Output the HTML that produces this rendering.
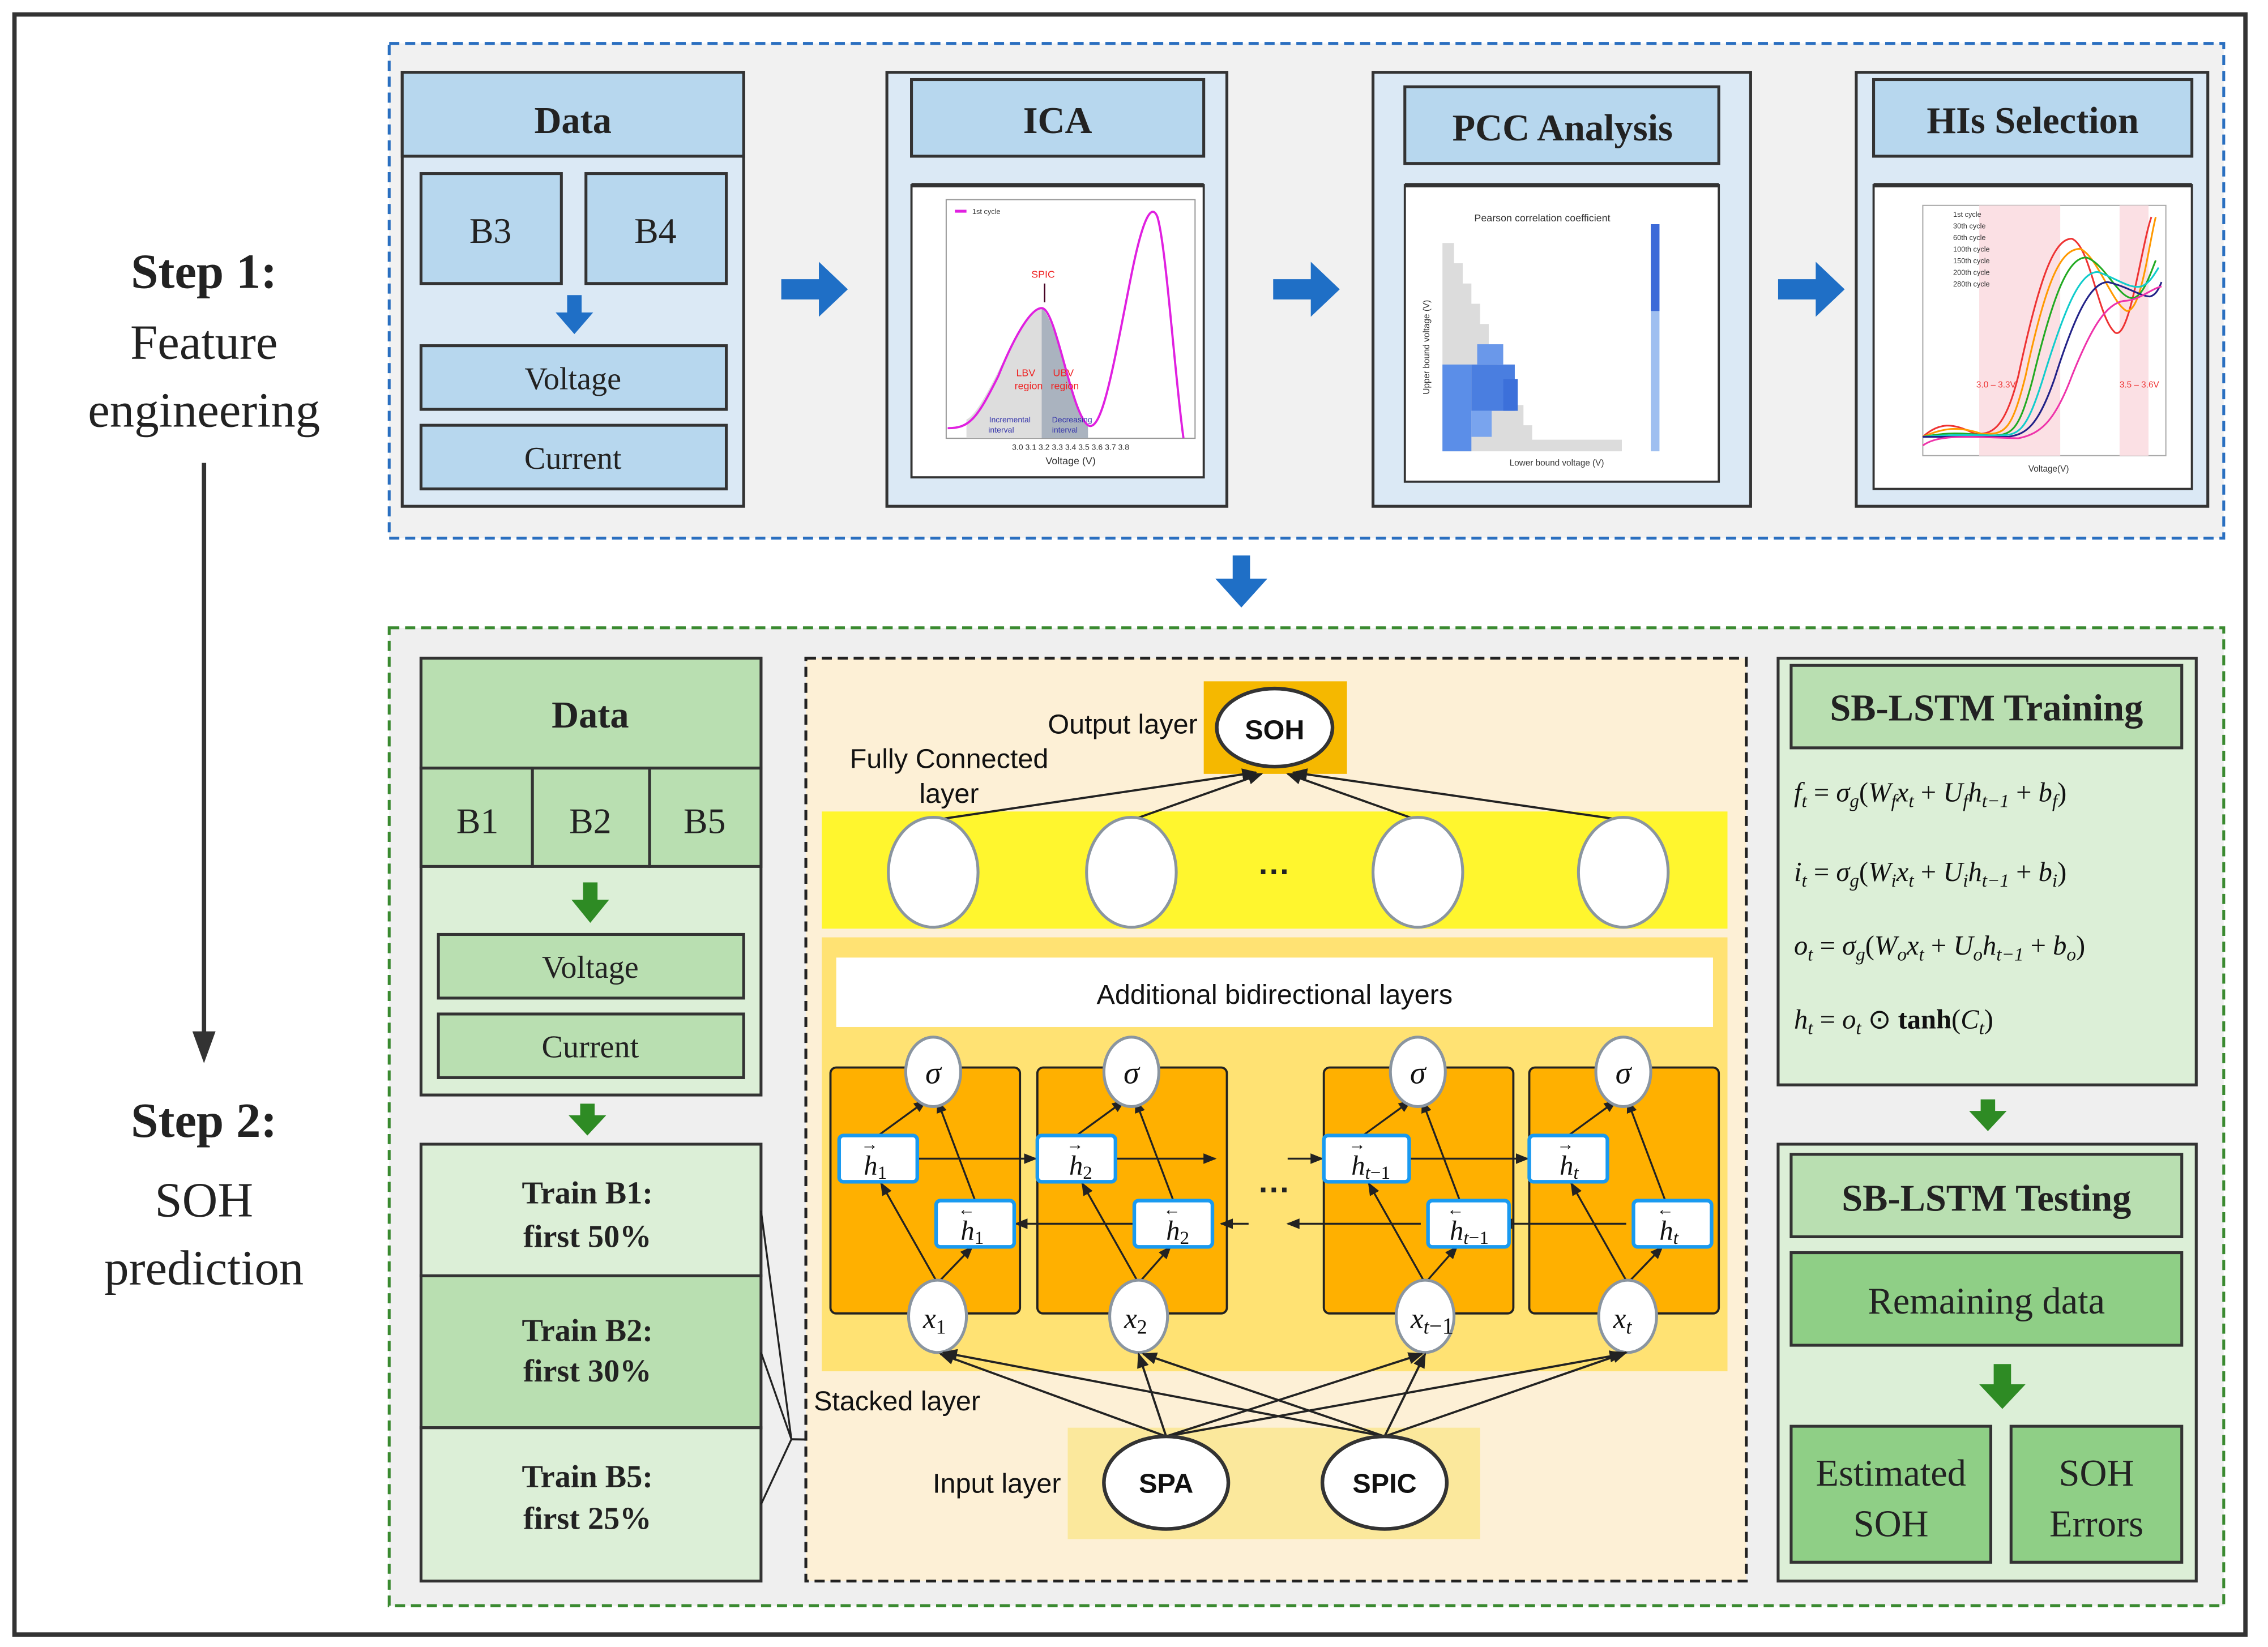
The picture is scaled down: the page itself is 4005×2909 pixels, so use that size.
<!DOCTYPE html>
<html><head><meta charset="utf-8"><style>
html,body{margin:0;padding:0;background:#fff;}
svg{display:block;}
.sf{font-family:"Liberation Serif",serif;}
.ss{font-family:"Liberation Sans",sans-serif;}
</style></head><body>
<svg width="4005" height="2909" viewBox="0 0 1567.6 1138.6" preserveAspectRatio="none" xmlns="http://www.w3.org/2000/svg">
<defs>
<marker id="ar" viewBox="0 0 10 10" refX="9" refY="5" markerWidth="7" markerHeight="7" orient="auto-start-reverse"><path d="M0,1 L10,5 L0,9 z" fill="#222"/></marker>
</defs>
<rect x="0" y="0" width="1567.6" height="1138.6" fill="#fff"/>
<rect x="10" y="10" width="1542" height="1120" fill="#fff" stroke="#333" stroke-width="3"/>

<g class="sf" text-anchor="middle" fill="#222">
<text x="141" y="199" font-size="34" font-weight="bold">Step 1:</text>
<text x="141" y="248" font-size="34">Feature</text>
<text x="141" y="295" font-size="34">engineering</text>
<text x="141" y="786" font-size="34" font-weight="bold">Step 2:</text>
<text x="141" y="841" font-size="34">SOH</text>
<text x="141" y="888" font-size="34">prediction</text>
</g>
<line x1="141" y1="320" x2="141" y2="715" stroke="#333" stroke-width="3"/>
<path d="M133,713 L149,713 L141,735 z" fill="#333"/>

<rect x="269" y="30" width="1268" height="342" fill="#f1f1f1" stroke="#2a6fc0" stroke-width="2" stroke-dasharray="7,4"/>

<rect x="278" y="50" width="236" height="300" fill="#dbe9f5" stroke="#333" stroke-width="2"/>
<rect x="278" y="50" width="236" height="58" fill="#b7d7ee" stroke="#333" stroke-width="2"/>
<text x="396" y="92" class="sf" font-size="26" font-weight="bold" text-anchor="middle" fill="#222">Data</text>
<rect x="291" y="120" width="97" height="76" fill="#b7d7ee" stroke="#333" stroke-width="2"/>
<rect x="405" y="120" width="97" height="76" fill="#b7d7ee" stroke="#333" stroke-width="2"/>
<text x="339" y="168" class="sf" font-size="25" text-anchor="middle" fill="#222">B3</text>
<text x="453" y="168" class="sf" font-size="25" text-anchor="middle" fill="#222">B4</text>
<path d="M392,204 h10 v12 h8 l-13,15 l-13,-15 h8 z" fill="#1f6fc6"/>
<rect x="291" y="239" width="211" height="44" fill="#b7d7ee" stroke="#333" stroke-width="2"/>
<rect x="291" y="294" width="211" height="44" fill="#b7d7ee" stroke="#333" stroke-width="2"/>
<text x="396" y="269" class="sf" font-size="22" text-anchor="middle" fill="#222">Voltage</text>
<text x="396" y="324" class="sf" font-size="22" text-anchor="middle" fill="#222">Current</text>

<path d="M540,193 h26 v-12 l20,19 l-20,19 v-12 h-26 z" fill="#1f6fc6"/>
<path d="M880,193 h26 v-12 l20,19 l-20,19 v-12 h-26 z" fill="#1f6fc6"/>
<path d="M1229,193 h26 v-12 l20,19 l-20,19 v-12 h-26 z" fill="#1f6fc6"/>
<path d="M852,384 h12 v16 h12 l-18,20 l-18,-20 h12 z" fill="#1f6fc6"/>

<rect x="613" y="50" width="235" height="300" fill="#dbe9f5" stroke="#333" stroke-width="2"/>
<rect x="630" y="55" width="202" height="53" fill="#b7d7ee" stroke="#333" stroke-width="2"/>
<text x="731" y="92" class="sf" font-size="26" font-weight="bold" text-anchor="middle" fill="#222">ICA</text>
<rect x="630" y="128" width="202" height="202" fill="#fff" stroke="#333" stroke-width="1.5"/>
<line x1="630" y1="128" x2="832" y2="128" stroke="#333" stroke-width="3"/>
<rect x="654" y="138" width="172" height="165" fill="#fff" stroke="#999" stroke-width="0.8"/>
<path d="M668,290 C680,285 700,230 712,218 L720,213 L720,303 L668,303 z" fill="#ddd"/>
<path d="M720,213 C730,220 740,280 752,295 L752,303 L720,303 z" fill="#aab3bf"/>
<path d="M655,296 C670,296 675,290 690,260 C700,235 712,213 720,213 C730,213 740,285 752,294 C762,300 770,250 782,190 C790,150 796,140 800,150 C806,170 812,260 818,303" fill="none" stroke="#e020e0" stroke-width="1.5"/>
<text x="721" y="192" font-size="7" fill="#e22" class="ss" text-anchor="middle">SPIC</text>
<line x1="722" y1="196" x2="722" y2="209" stroke="#402" stroke-width="1"/>
<text x="709" y="260" font-size="7" fill="#e22" class="ss" text-anchor="middle">LBV</text>
<text x="711" y="269" font-size="7" fill="#e22" class="ss" text-anchor="middle">region</text>
<text x="735" y="260" font-size="7" fill="#e22" class="ss" text-anchor="middle">UBV</text>
<text x="736" y="269" font-size="7" fill="#e22" class="ss" text-anchor="middle">region</text>
<text x="698" y="292" font-size="5.5" fill="#33a" class="ss" text-anchor="middle">Incremental</text>
<text x="692" y="299" font-size="5.5" fill="#33a" class="ss" text-anchor="middle">interval</text>
<text x="741" y="292" font-size="5.5" fill="#33a" class="ss" text-anchor="middle">Decreasing</text>
<text x="736" y="299" font-size="5.5" fill="#33a" class="ss" text-anchor="middle">interval</text>
<text x="740" y="321" font-size="7" class="ss" text-anchor="middle" fill="#333">Voltage (V)</text>
<text x="740" y="311" font-size="5.5" class="ss" text-anchor="middle" fill="#333">3.0  3.1  3.2  3.3  3.4  3.5  3.6  3.7  3.8</text>
<text x="672" y="148" font-size="5" class="ss" fill="#333">1st cycle</text>
<line x1="660" y1="146" x2="668" y2="146" stroke="#e020e0" stroke-width="2"/>

<rect x="949" y="50" width="261" height="300" fill="#dbe9f5" stroke="#333" stroke-width="2"/>
<rect x="971" y="60" width="217" height="53" fill="#b7d7ee" stroke="#333" stroke-width="2"/>
<text x="1080" y="97" class="sf" font-size="26" font-weight="bold" text-anchor="middle" fill="#222">PCC Analysis</text>
<rect x="971" y="128" width="217" height="205" fill="#fff" stroke="#333" stroke-width="1.5"/>
<line x1="971" y1="128" x2="1188" y2="128" stroke="#333" stroke-width="3"/>
<text x="1066" y="153" font-size="7" class="ss" text-anchor="middle" fill="#333">Pearson correlation coefficient</text>
<path d="M997,168 L1005,168 L1005,182 L1011,182 L1011,196 L1017,196 L1017,210 L1023,210 L1023,224 L1029,224 L1029,238 L1035,238 L1035,252 L1041,252 L1041,266 L1047,266 L1047,280 L1053,280 L1053,294 L1059,294 L1059,304 L1121,304 L1121,312 L997,312 z" fill="#dcdcdc"/>
<rect x="997" y="252" width="20" height="60" fill="#5b8ee8"/>
<rect x="1017" y="252" width="30" height="32" fill="#4a7ee0"/>
<rect x="1021" y="238" width="18" height="14" fill="#6a98ea"/>
<rect x="1039" y="262" width="10" height="22" fill="#3c70da"/>
<rect x="1017" y="284" width="14" height="18" fill="#79a4ee"/>
<rect x="1141" y="155" width="6" height="157" fill="#9fbff0"/>
<rect x="1141" y="155" width="6" height="60" fill="#3c6ad8"/>
<text x="1076" y="322" font-size="6" class="ss" text-anchor="middle" fill="#333">Lower bound voltage (V)</text>
<text x="988" y="240" font-size="6" class="ss" text-anchor="middle" fill="#333" transform="rotate(-90 988 240)">Upper bound voltage (V)</text>

<rect x="1283" y="50" width="243" height="300" fill="#dbe9f5" stroke="#333" stroke-width="2"/>
<rect x="1295" y="55" width="220" height="53" fill="#b7d7ee" stroke="#333" stroke-width="2"/>
<text x="1405" y="92" class="sf" font-size="26" font-weight="bold" text-anchor="middle" fill="#222">HIs Selection</text>
<rect x="1295" y="128" width="220" height="210" fill="#fff" stroke="#333" stroke-width="1.5"/>
<line x1="1295" y1="128" x2="1515" y2="128" stroke="#333" stroke-width="3"/>
<rect x="1329" y="142" width="168" height="173" fill="#fff" stroke="#aaa" stroke-width="0.8"/>
<rect x="1368" y="142" width="56" height="173" fill="#fbe0e4"/>
<rect x="1465" y="142" width="20" height="173" fill="#fbe0e4"/>
<path d="M1329,302 C1340,292 1350,292 1365,300 C1375,300 1385,300 1395,260 C1410,190 1420,165 1432,165 C1445,170 1450,220 1462,230 C1472,235 1480,170 1487,150" fill="none" stroke="#e33" stroke-width="1.2"/>
<path d="M1329,302 C1345,295 1355,295 1370,300 C1385,300 1390,300 1400,260 C1415,190 1425,172 1438,172 C1450,178 1460,210 1470,215 C1480,215 1485,170 1490,150" fill="none" stroke="#f90" stroke-width="1.2"/>
<path d="M1329,302 C1350,298 1360,300 1375,301 C1390,301 1395,300 1405,262 C1420,200 1430,178 1442,178 C1455,182 1465,208 1475,206 C1482,203 1486,190 1490,180" fill="none" stroke="#2a2" stroke-width="1.2"/>
<path d="M1329,302 C1350,300 1365,301 1380,301 C1395,301 1400,300 1412,262 C1428,210 1438,188 1450,188 C1462,192 1472,200 1480,198 C1486,196 1490,188 1492,185" fill="none" stroke="#1cc" stroke-width="1.2"/>
<path d="M1329,302 C1355,302 1370,302 1388,302 C1400,300 1408,296 1420,262 C1434,218 1445,195 1457,195 C1470,198 1480,205 1486,205 C1490,204 1492,200 1494,195" fill="none" stroke="#228" stroke-width="1.2"/>
<path d="M1329,308 C1340,300 1360,302 1395,303 C1410,300 1420,292 1432,260 C1446,225 1456,210 1468,208 C1478,208 1486,200 1494,198" fill="none" stroke="#e3a" stroke-width="1.2"/>
<text x="1366" y="268" font-size="6" class="ss" fill="#e33">3.0 – 3.3V</text>
<text x="1465" y="268" font-size="6" class="ss" fill="#e33">3.5 – 3.6V</text>
<text x="1416" y="326" font-size="6" class="ss" text-anchor="middle" fill="#333">Voltage(V)</text>
<text x="1350" y="150" font-size="5" class="ss" fill="#333">1st cycle</text>
<text x="1350" y="158" font-size="5" class="ss" fill="#333">30th cycle</text>
<text x="1350" y="166" font-size="5" class="ss" fill="#333">60th cycle</text>
<text x="1350" y="174" font-size="5" class="ss" fill="#333">100th cycle</text>
<text x="1350" y="182" font-size="5" class="ss" fill="#333">150th cycle</text>
<text x="1350" y="190" font-size="5" class="ss" fill="#333">200th cycle</text>
<text x="1350" y="198" font-size="5" class="ss" fill="#333">280th cycle</text>

<rect x="269" y="434" width="1268" height="676" fill="#efefef" stroke="#3a8a30" stroke-width="2" stroke-dasharray="7,4"/>

<rect x="291" y="455" width="235" height="302" fill="#dcefd7" stroke="#333" stroke-width="2"/>
<rect x="291" y="455" width="235" height="76" fill="#b9dfb1" stroke="#333" stroke-width="2"/>
<text x="408" y="503" class="sf" font-size="26" font-weight="bold" text-anchor="middle" fill="#222">Data</text>
<rect x="291" y="531" width="77" height="68" fill="#b9dfb1" stroke="#333" stroke-width="2"/>
<rect x="368" y="531" width="81" height="68" fill="#b9dfb1" stroke="#333" stroke-width="2"/>
<rect x="449" y="531" width="77" height="68" fill="#b9dfb1" stroke="#333" stroke-width="2"/>
<text x="330" y="576" class="sf" font-size="25" text-anchor="middle" fill="#222">B1</text>
<text x="408" y="576" class="sf" font-size="25" text-anchor="middle" fill="#222">B2</text>
<text x="487" y="576" class="sf" font-size="25" text-anchor="middle" fill="#222">B5</text>
<path d="M403,610 h10 v12 h8 l-13,16 l-13,-16 h8 z" fill="#2e8b24"/>
<rect x="303" y="646" width="211" height="44" fill="#b9dfb1" stroke="#333" stroke-width="2"/>
<rect x="303" y="701" width="211" height="44" fill="#b9dfb1" stroke="#333" stroke-width="2"/>
<text x="408" y="676" class="sf" font-size="22" text-anchor="middle" fill="#222">Voltage</text>
<text x="408" y="731" class="sf" font-size="22" text-anchor="middle" fill="#222">Current</text>
<path d="M401,763 h10 v8 h8 l-13,14 l-13,-14 h8 z" fill="#2e8b24"/>

<rect x="291" y="791" width="235" height="91" fill="#dcefd7" stroke="#333" stroke-width="2"/>
<rect x="291" y="882" width="235" height="105" fill="#b9dfb1" stroke="#333" stroke-width="2"/>
<rect x="291" y="987" width="235" height="106" fill="#dcefd7" stroke="#333" stroke-width="2"/>
<g class="sf" font-size="22" font-weight="bold" text-anchor="middle" fill="#222">
<text x="406" y="832">Train B1:</text><text x="406" y="862">first 50%</text>
<text x="406" y="927">Train B2:</text><text x="406" y="955">first 30%</text>
<text x="406" y="1028">Train B5:</text><text x="406" y="1057">first 25%</text>
</g>
<path d="M526,837 L547,995 M526,935 L547,995 M526,1040 L547,995" fill="none" stroke="#222" stroke-width="1.3"/>
<line x1="547" y1="995" x2="737" y2="998" stroke="#222" stroke-width="1.5" marker-end="url(#ar)"/>

<rect x="557" y="455" width="650" height="638" fill="#fdf0d6" stroke="#222" stroke-width="2" stroke-dasharray="7,4"/>
<rect x="832" y="471" width="99" height="64" fill="#f5b800"/>
<ellipse cx="881" cy="503" rx="40" ry="27" fill="#fff" stroke="#333" stroke-width="2.5"/>
<text x="881" y="511" class="ss" font-size="19" font-weight="bold" text-anchor="middle" fill="#111">SOH</text>
<text x="776" y="507" class="ss" font-size="19" text-anchor="middle" fill="#111">Output layer</text>
<text x="656" y="531" class="ss" font-size="19" text-anchor="middle" fill="#111">Fully Connected</text>
<text x="656" y="555" class="ss" font-size="19" text-anchor="middle" fill="#111">layer</text>

<rect x="568" y="561" width="626" height="81" fill="#fff62e"/>
<g stroke="#222" stroke-width="1.5" marker-end="url(#ar)">
<line x1="645" y1="567" x2="868" y2="534"/>
<line x1="782" y1="567" x2="872" y2="535"/>
<line x1="980" y1="567" x2="890" y2="535"/>
<line x1="1122" y1="567" x2="894" y2="534"/>
</g>
<g fill="#fff" stroke="#8a95a0" stroke-width="2">
<ellipse cx="645" cy="603" rx="31" ry="38"/>
<ellipse cx="782" cy="603" rx="31" ry="38"/>
<ellipse cx="980" cy="603" rx="31" ry="38"/>
<ellipse cx="1122" cy="603" rx="31" ry="38"/>
</g>
<text x="881" y="610" class="ss" font-size="22" font-weight="bold" text-anchor="middle" fill="#222">···</text>

<rect x="568" y="648" width="626" height="300" fill="#ffe273"/>
<rect x="578" y="662" width="606" height="48" fill="#fff"/>
<text x="881" y="694" class="ss" font-size="19" text-anchor="middle" fill="#111">Additional bidirectional layers</text>

<g fill="#ffb000" stroke="#222" stroke-width="1.5">
<rect x="574" y="738" width="131" height="170" rx="4"/>
<rect x="717" y="738" width="131" height="170" rx="4"/>
<rect x="915" y="738" width="131" height="170" rx="4"/>
<rect x="1057" y="738" width="131" height="170" rx="4"/>
</g>

<g stroke="#222" stroke-width="1.3" marker-end="url(#ar)">
<line x1="648" y1="887" x2="609" y2="818"/><line x1="648" y1="887" x2="672" y2="862"/>
<line x1="607" y1="785" x2="640" y2="761"/><line x1="674" y1="830" x2="648" y2="761"/>
<line x1="787" y1="887" x2="748" y2="818"/><line x1="787" y1="887" x2="809" y2="862"/>
<line x1="744" y1="785" x2="777" y2="761"/><line x1="811" y1="830" x2="785" y2="761"/>
<line x1="985" y1="887" x2="946" y2="818"/><line x1="985" y1="887" x2="1007" y2="862"/>
<line x1="942" y1="785" x2="975" y2="761"/><line x1="1009" y1="830" x2="983" y2="761"/>
<line x1="1125" y1="887" x2="1086" y2="818"/><line x1="1125" y1="887" x2="1149" y2="862"/>
<line x1="1084" y1="785" x2="1117" y2="761"/><line x1="1151" y1="830" x2="1125" y2="761"/>
<line x1="634" y1="801" x2="716" y2="801"/>
<line x1="771" y1="801" x2="840" y2="801"/>
<line x1="890" y1="801" x2="914" y2="801"/>
<line x1="974" y1="801" x2="1056" y2="801"/>
<line x1="1124" y1="846" x2="1037" y2="846"/>
<line x1="982" y1="846" x2="890" y2="846"/>
<line x1="863" y1="846" x2="844" y2="846"/>
<line x1="784" y1="846" x2="702" y2="846"/>
</g>
<text x="881" y="830" class="ss" font-size="22" font-weight="bold" text-anchor="middle" fill="#222">···</text>

<g fill="#fff" stroke="#8a95a0" stroke-width="2">
<ellipse cx="645" cy="741" rx="19" ry="24"/><ellipse cx="782" cy="741" rx="19" ry="24"/>
<ellipse cx="980" cy="741" rx="19" ry="24"/><ellipse cx="1122" cy="741" rx="19" ry="24"/>
<ellipse cx="648" cy="910" rx="20" ry="25"/><ellipse cx="787" cy="910" rx="20" ry="25"/>
<ellipse cx="985" cy="910" rx="20" ry="25"/><ellipse cx="1125" cy="910" rx="20" ry="25"/>
</g>
<g class="sf" font-style="italic" font-size="22" text-anchor="middle" fill="#111">
<text x="645" y="749">σ</text><text x="782" y="749">σ</text><text x="980" y="749">σ</text><text x="1122" y="749">σ</text>
</g>
<g class="sf" font-style="italic" font-size="20" fill="#111">
<text x="638" y="918">x<tspan font-size="14" dy="4" font-style="normal">1</tspan></text>
<text x="777" y="918">x<tspan font-size="14" dy="4" font-style="normal">2</tspan></text>
<text x="975" y="918">x<tspan font-size="14" dy="4">t</tspan><tspan font-style="normal" font-size="16">−1</tspan></text>
<text x="1115" y="918">x<tspan font-size="14" dy="4">t</tspan></text>
</g>

<g fill="#fff" stroke="#1a9af0" stroke-width="2.5">
<rect x="580" y="785" width="54" height="32" rx="3"/><rect x="717" y="785" width="54" height="32" rx="3"/>
<rect x="915" y="785" width="59" height="32" rx="3"/><rect x="1057" y="785" width="54" height="32" rx="3"/>
<rect x="647" y="830" width="54" height="32" rx="3"/><rect x="784" y="830" width="54" height="32" rx="3"/>
<rect x="987" y="830" width="56" height="32" rx="3"/><rect x="1129" y="830" width="54" height="32" rx="3"/>
</g>
<g class="sf" font-style="italic" font-size="19" fill="#111">
<text x="597" y="812">h<tspan font-size="13" dy="3" font-style="normal">1</tspan></text><text x="595" y="795" font-size="12" font-style="normal">→</text>
<text x="739" y="812">h<tspan font-size="13" dy="3" font-style="normal">2</tspan></text><text x="737" y="795" font-size="12" font-style="normal">→</text>
<text x="934" y="812">h<tspan font-size="13" dy="3">t</tspan><tspan font-size="13" font-style="normal">−1</tspan></text><text x="932" y="795" font-size="12" font-style="normal">→</text>
<text x="1078" y="812">h<tspan font-size="13" dy="3">t</tspan></text><text x="1076" y="795" font-size="12" font-style="normal">→</text>
<text x="664" y="857">h<tspan font-size="13" dy="3" font-style="normal">1</tspan></text><text x="662" y="840" font-size="12" font-style="normal">←</text>
<text x="806" y="857">h<tspan font-size="13" dy="3" font-style="normal">2</tspan></text><text x="804" y="840" font-size="12" font-style="normal">←</text>
<text x="1002" y="857">h<tspan font-size="13" dy="3">t</tspan><tspan font-size="13" font-style="normal">−1</tspan></text><text x="1000" y="840" font-size="12" font-style="normal">←</text>
<text x="1147" y="857">h<tspan font-size="13" dy="3">t</tspan></text><text x="1145" y="840" font-size="12" font-style="normal">←</text>
</g>

<text x="620" y="975" class="ss" font-size="19" text-anchor="middle" fill="#111">Stacked layer</text>
<rect x="738" y="987" width="285" height="77" fill="#fbe89c"/>
<text x="689" y="1032" class="ss" font-size="19" text-anchor="middle" fill="#111">Input layer</text>

<g stroke="#222" stroke-width="1.5" marker-end="url(#ar)">
<line x1="806" y1="993" x2="650" y2="936"/>
<line x1="806" y1="993" x2="787" y2="936"/>
<line x1="806" y1="993" x2="983" y2="936"/>
<line x1="806" y1="993" x2="1122" y2="936"/>
<line x1="957" y1="993" x2="652" y2="935"/>
<line x1="957" y1="993" x2="790" y2="936"/>
<line x1="957" y1="993" x2="985" y2="936"/>
<line x1="957" y1="993" x2="1124" y2="935"/>
</g>
<ellipse cx="806" cy="1025" rx="43" ry="32" fill="#fff" stroke="#333" stroke-width="2.5"/>
<ellipse cx="957" cy="1025" rx="43" ry="32" fill="#fff" stroke="#333" stroke-width="2.5"/>
<text x="806" y="1032" class="ss" font-size="19" font-weight="bold" text-anchor="middle" fill="#111">SPA</text>
<text x="957" y="1032" class="ss" font-size="19" font-weight="bold" text-anchor="middle" fill="#111">SPIC</text>

<rect x="1229" y="455" width="289" height="295" fill="#dcefd7" stroke="#333" stroke-width="2"/>
<rect x="1238" y="460" width="270" height="57" fill="#b9dfb1" stroke="#333" stroke-width="2"/>
<text x="1373" y="498" class="sf" font-size="26" font-weight="bold" text-anchor="middle" fill="#222">SB-LSTM Training</text>
<g class="sf" font-size="19" fill="#111" font-style="italic">
<text x="1240" y="554">f<tspan font-size="13" dy="4">t</tspan><tspan dy="-4" font-style="normal"> = </tspan>σ<tspan font-size="13" dy="4">g</tspan><tspan dy="-4" font-style="normal">(</tspan>W<tspan font-size="13" dy="4">f</tspan><tspan dy="-4">x</tspan><tspan font-size="13" dy="4">t</tspan><tspan dy="-4" font-style="normal"> + </tspan>U<tspan font-size="13" dy="4">f</tspan><tspan dy="-4">h</tspan><tspan font-size="13" dy="4">t−1</tspan><tspan dy="-4" font-style="normal"> + </tspan>b<tspan font-size="13" dy="4">f</tspan><tspan dy="-4" font-style="normal">)</tspan></text>
<text x="1240" y="609">i<tspan font-size="13" dy="4">t</tspan><tspan dy="-4" font-style="normal"> = </tspan>σ<tspan font-size="13" dy="4">g</tspan><tspan dy="-4" font-style="normal">(</tspan>W<tspan font-size="13" dy="4">i</tspan><tspan dy="-4">x</tspan><tspan font-size="13" dy="4">t</tspan><tspan dy="-4" font-style="normal"> + </tspan>U<tspan font-size="13" dy="4">i</tspan><tspan dy="-4">h</tspan><tspan font-size="13" dy="4">t−1</tspan><tspan dy="-4" font-style="normal"> + </tspan>b<tspan font-size="13" dy="4">i</tspan><tspan dy="-4" font-style="normal">)</tspan></text>
<text x="1240" y="660">o<tspan font-size="13" dy="4">t</tspan><tspan dy="-4" font-style="normal"> = </tspan>σ<tspan font-size="13" dy="4">g</tspan><tspan dy="-4" font-style="normal">(</tspan>W<tspan font-size="13" dy="4">o</tspan><tspan dy="-4">x</tspan><tspan font-size="13" dy="4">t</tspan><tspan dy="-4" font-style="normal"> + </tspan>U<tspan font-size="13" dy="4">o</tspan><tspan dy="-4">h</tspan><tspan font-size="13" dy="4">t−1</tspan><tspan dy="-4" font-style="normal"> + </tspan>b<tspan font-size="13" dy="4">o</tspan><tspan dy="-4" font-style="normal">)</tspan></text>
<text x="1240" y="711">h<tspan font-size="13" dy="4">t</tspan><tspan dy="-4" font-style="normal"> = </tspan>o<tspan font-size="13" dy="4">t</tspan><tspan dy="-4" font-style="normal"> ⊙ </tspan><tspan font-style="normal" font-weight="bold">tanh</tspan><tspan font-style="normal">(</tspan>C<tspan font-size="13" dy="4">t</tspan><tspan dy="-4" font-style="normal">)</tspan></text>
</g>
<path d="M1369,760 h10 v8 h8 l-13,14 l-13,-14 h8 z" fill="#2e8b24"/>

<rect x="1229" y="791" width="289" height="302" fill="#dcefd7" stroke="#333" stroke-width="2"/>
<rect x="1238" y="798" width="270" height="57" fill="#b9dfb1" stroke="#333" stroke-width="2"/>
<text x="1373" y="837" class="sf" font-size="26" font-weight="bold" text-anchor="middle" fill="#222">SB-LSTM Testing</text>
<rect x="1238" y="866" width="270" height="64" fill="#8fcf86" stroke="#333" stroke-width="2"/>
<text x="1373" y="908" class="sf" font-size="26" text-anchor="middle" fill="#222">Remaining data</text>
<path d="M1378,943 h12 v14 h10 l-16,17 l-16,-17 h10 z" fill="#2e8b24"/>
<rect x="1238" y="986" width="138" height="94" fill="#8fcf86" stroke="#333" stroke-width="2"/>
<rect x="1390" y="986" width="118" height="94" fill="#8fcf86" stroke="#333" stroke-width="2"/>
<g class="sf" font-size="26" text-anchor="middle" fill="#222">
<text x="1307" y="1027">Estimated</text><text x="1307" y="1062">SOH</text>
<text x="1449" y="1027">SOH</text><text x="1449" y="1062">Errors</text>
</g>
</svg>
</body></html>
